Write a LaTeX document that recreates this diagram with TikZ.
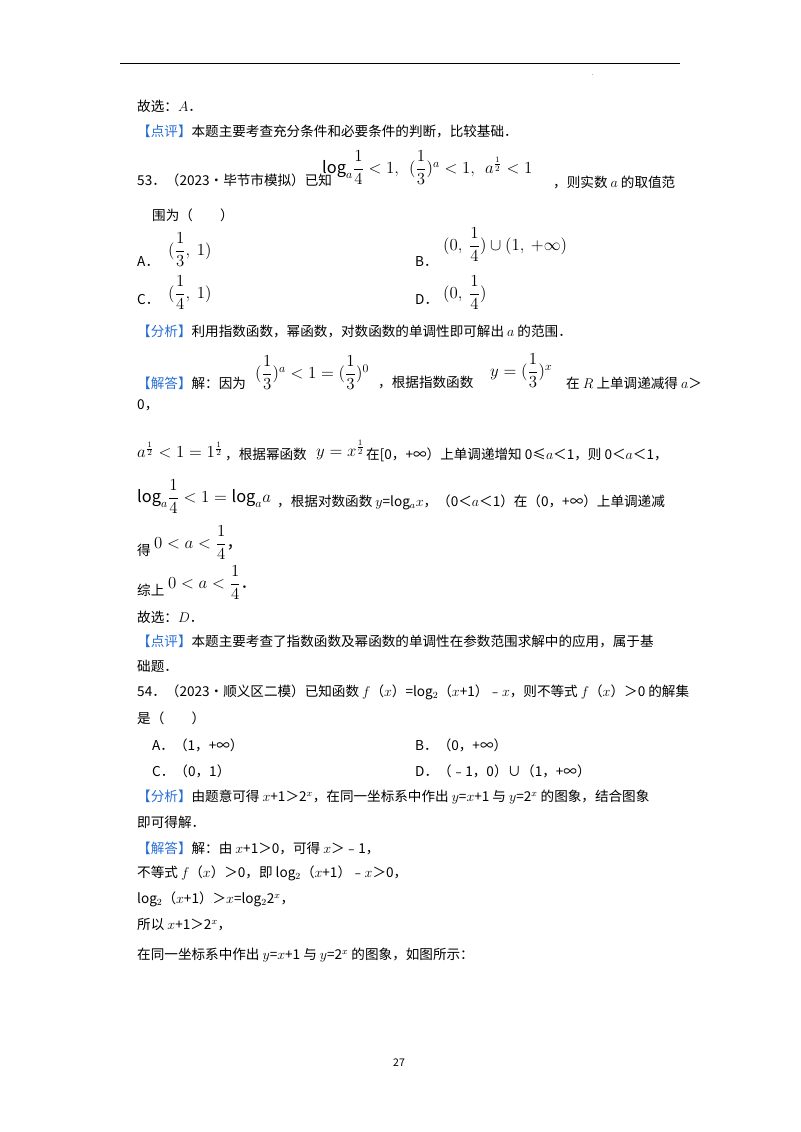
\documentclass[tikz,border=0pt]{standalone}
\usepackage{fontspec}
\usepackage{amsmath,amssymb}
\setmainfont{Noto Sans CJK SC}
\definecolor{hl}{RGB}{40,110,210}
\newcommand{\hb}[1]{{\color{hl}【#1】}}
\begin{document}
\begin{tikzpicture}[x=0.03cm,y=-0.03cm,
  t/.style={anchor=west,inner sep=0pt,font=\fontsize{11.6}{14}\selectfont},
  m/.style={anchor=west,inner sep=0pt,font=\fontsize{14}{16}\selectfont}]
\useasboundingbox (0,0) rectangle (800,1132);
\draw[line width=0.8pt] (120,63) -- (680,63);
\node[t] (d) at (592,75) {\tiny .};
\node[t] (l1) at (137,106) {故选：$A$．};
\node[t] (l2) at (137,131) {\hb{点评}本题主要考查充分条件和必要条件的判断，比较基础．};
\node[t] (l3) at (137,180) {53．（2023•毕节市模拟）已知};
\node[m] (l3m) at (322,168) {$\mathrm{log}_a\dfrac14<1,\ \ (\dfrac13)^a<1,\ \ a^{\frac{1}{2}}<1$};
\node[t] (l3b) at (553,182) {，则实数 $a$ 的取值范};
\node[t] (l4) at (152,215) {围为（　　）};
\node[t] (a1) at (137,262) {A．};
\node[m] (a1m) at (168,250) {$(\dfrac13,\ 1)$};
\node[t] (b1) at (415,262) {B．};
\node[m] (b1m) at (443,245) {$(0,\ \dfrac14)\cup(1,\ +\infty)$};
\node[t] (c1) at (137,300) {C．};
\node[m] (c1m) at (168,293) {$(\dfrac14,\ 1)$};
\node[t] (dd1) at (415,300) {D．};
\node[m] (dd1m) at (443,293) {$(0,\ \dfrac14)$};
\node[t] (l5) at (137,331) {\hb{分析}利用指数函数，幂函数，对数函数的单调性即可解出 $a$ 的范围．};
\node[t] (l6) at (137,383) {\hb{解答}解：因为};
\node[m] (l6m) at (255,373) {$(\dfrac13)^a<1=(\dfrac13)^0$};
\node[t] (l6b) at (378,383) {，根据指数函数};
\node[m] (l6m2) at (490,371) {$y=(\dfrac13)^x$};
\node[t] (l6c) at (566,383) {在 $R$ 上单调递减得 $a$＞};
\node[t] (l7) at (137,405) {0，};
\node[m] (l8a) at (137,450) {$a^{\frac12}<1=1^{\frac12}$};
\node[t] (l8) at (225,455) {，根据幂函数};
\node[m] (l8m) at (316,450) {$y=x^{\frac12}$};
\node[t] (l8b) at (366,455) {在[0，+∞）上单调递增知 0≤$a$＜1，则 0＜$a$＜1，};
\node[m] (l9a) at (137,497) {$\mathrm{log}_a\dfrac14<1=\mathrm{log}_a a$};
\node[t] (l9) at (277,502) {，根据对数函数 $y$=log$_a x$，（0＜$a$＜1）在（0，+∞）上单调递减};
\node[t] (l10) at (137,550) {得};
\node[m] (l10m) at (154,543) {$0<a<\dfrac14$，};
\node[t] (l11) at (137,590) {综上};
\node[m] (l11m) at (168,583) {$0<a<\dfrac14$．};
\node[t] (l12) at (137,617) {故选：$D$．};
\node[t] (l13) at (137,641) {\hb{点评}本题主要考查了指数函数及幂函数的单调性在参数范围求解中的应用，属于基};
\node[t] (l14) at (137,666) {础题．};
\node[t] (l15) at (137,692) {54．（2023•顺义区二模）已知函数 $f$（$x$）=log$_2$（$x$+1）﹣$x$，则不等式 $f$（$x$）＞0 的解集};
\node[t] (l16) at (137,718) {是（　　）};
\node[t] (a2) at (152,745) {A．（1，+∞）};
\node[t] (b2) at (415,745) {B．（0，+∞）};
\node[t] (c2) at (152,771) {C．（0，1）};
\node[t] (d2) at (415,771) {D．（﹣1，0）∪（1，+∞）};
\node[t] (l17) at (137,797) {\hb{分析}由题意可得 $x$+1＞2$^x$，在同一坐标系中作出 $y$=$x$+1 与 $y$=2$^x$ 的图象，结合图象};
\node[t] (l18) at (137,822) {即可得解．};
\node[t] (l19) at (137,848) {\hb{解答}解：由 $x$+1＞0，可得 $x$＞﹣1，};
\node[t] (l20) at (137,873) {不等式 $f$（$x$）＞0，即 log$_2$（$x$+1）﹣$x$＞0，};
\node[t] (l21) at (137,899) {log$_2$（$x$+1）＞$x$=log$_2$2$^x$，};
\node[t] (l22) at (137,925) {所以 $x$+1＞2$^x$，};
\node[t] (l23) at (137,955) {在同一坐标系中作出 $y$=$x$+1 与 $y$=2$^x$ 的图象，如图所示：};
\node[t,font=\fontsize{9}{10}\selectfont] (pg) at (393,1063) {27};
\end{tikzpicture}
\end{document}
